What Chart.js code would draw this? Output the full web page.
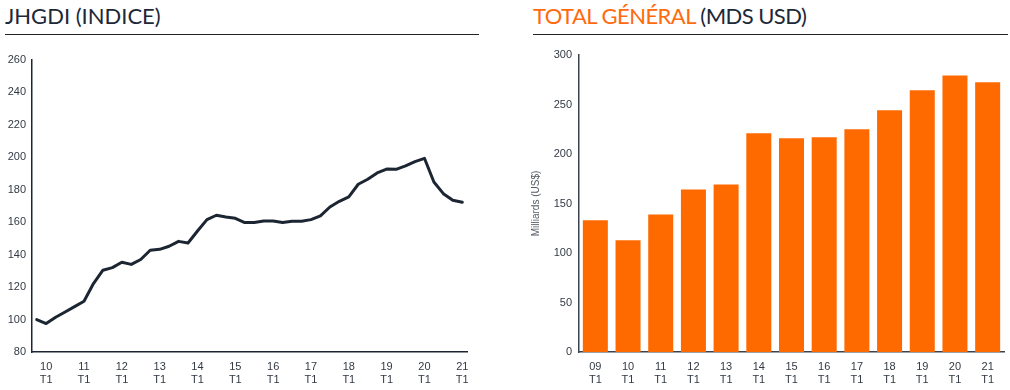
<!DOCTYPE html>
<html>
<head>
<meta charset="utf-8">
<script src="https://cdn.jsdelivr.net/npm/chart.js@4.4.1/dist/chart.umd.min.js"></script>
<style>
  html, body { margin: 0; padding: 0; background: #ffffff; }
  body { width: 1010px; height: 390px; position: relative; overflow: hidden; }
  .title { position: absolute; top: 2px; font-family: Lato, "Liberation Sans", sans-serif; font-size: 22px; color: #1d2838; white-space: nowrap; letter-spacing: 0px; }
  .title .hl { color: #ff6a0d; }
  .rule { position: absolute; top: 34px; height: 0; border-top: 1.5px solid #222; }
  .box { position: absolute; top: 40px; height: 350px; }
</style>
</head>
<body>
<div class="title" style="left:5px;">JHGDI (INDICE)</div>
<div class="rule" style="left:5px; width:474px;"></div>
<div class="title" style="left:533px; letter-spacing:-0.55px;"><span class="hl">TOTAL GÉNÉRAL</span> (MDS USD)</div>
<div class="rule" style="left:533px; width:475px;"></div>

<div class="box" style="left:0px; width:480px;"><canvas id="lineChart" width="480" height="350"></canvas></div>
<div class="box" style="left:520px; width:490px;"><canvas id="barChart" width="490" height="350"></canvas></div>

<script>
// ---- Data: JHGDI index, quarterly ----
const lineCategories = [
  '09 T4',
  '10 T1','10 T2','10 T3','10 T4',
  '11 T1','11 T2','11 T3','11 T4',
  '12 T1','12 T2','12 T3','12 T4',
  '13 T1','13 T2','13 T3','13 T4',
  '14 T1','14 T2','14 T3','14 T4',
  '15 T1','15 T2','15 T3','15 T4',
  '16 T1','16 T2','16 T3','16 T4',
  '17 T1','17 T2','17 T3','17 T4',
  '18 T1','18 T2','18 T3','18 T4',
  '19 T1','19 T2','19 T3','19 T4',
  '20 T1','20 T2','20 T3','20 T4',
  '21 T1'
];
const jhgdiValues = [
  100, 97.5, 101.4, 104.7, 108, 111.3, 122.2, 130.4, 132, 135.3,
  134, 137, 142.7, 143.3, 145.2, 148.2, 147.2, 154.6, 161.6, 164.3,
  163.2, 162.4, 159.8, 159.8, 160.8, 160.8, 159.8, 160.6, 160.6, 161.6,
  163.9, 169.4, 172.9, 175.6, 183.4, 186.5, 190.4, 192.8, 192.6, 194.7,
  197.4, 199.4, 184.8, 177.6, 173.5, 172.3
];
const lineYTicks = [80, 100, 120, 140, 160, 180, 200, 220, 240, 260];

// ---- Data: Total général (Mds USD) ----
const barCategories = ['09 T1','10 T1','11 T1','12 T1','13 T1','14 T1','15 T1','16 T1','17 T1','18 T1','19 T1','20 T1','21 T1'];
const totalValues = [133, 112.8, 138.9, 164.2, 169.2, 220.9, 215.9, 216.9, 225, 244.1, 264.3, 279.4, 272.4];
const barYTicks = [0, 50, 100, 150, 200, 250, 300];
const barYTitle = 'Milliards (US$)';

const tickFont = { family: '"Liberation Sans", Arial, sans-serif', size: 11, lineHeight: 1.12 };
const tickColor = '#333a44';

function splitLabel(lbl) {
  const parts = lbl.split(' ');
  return [parts[0], parts[1]];
}

new Chart(document.getElementById('lineChart'), {
  type: 'line',
  data: {
    labels: lineCategories,
    datasets: [{
      data: jhgdiValues,
      borderColor: '#1c2633',
      borderWidth: 3,
      pointRadius: 0,
      tension: 0,
      borderJoinStyle: 'round',
      borderCapStyle: 'round',
      fill: false
    }]
  },
  options: {
    responsive: false,
    animation: false,
    layout: { padding: { top: 20, right: 13, left: 0, bottom: 0 } },
    plugins: { legend: { display: false }, tooltip: { enabled: false } },
    scales: {
      x: {
        offset: true,
        grid: { display: false, drawTicks: false },
        border: { display: true, color: '#1c2633', width: 1.5 },
        ticks: {
          autoSkip: false, maxRotation: 0, minRotation: 0, padding: 9,
          color: tickColor, font: tickFont,
          callback: function(v) {
            const l = lineCategories[v];
            return l.endsWith('T1') ? splitLabel(l) : '';
          }
        },
        afterFit: s => { s.height = 38; }
      },
      y: {
        min: 80, max: 260,
        grid: { display: false, drawTicks: false },
        border: { display: true, color: '#1c2633', width: 1.5 },
        afterBuildTicks: s => { s.ticks = lineYTicks.map(v => ({ value: v })); },
        ticks: { padding: 6, color: tickColor, font: tickFont },
        afterFit: s => { s.width = 32; }
      }
    }
  }
});

new Chart(document.getElementById('barChart'), {
  type: 'bar',
  data: {
    labels: barCategories,
    datasets: [{
      data: totalValues,
      backgroundColor: '#ff6a00',
      borderWidth: 0,
      barPercentage: 0.765,
      categoryPercentage: 1.0
    }]
  },
  options: {
    responsive: false,
    animation: false,
    layout: { padding: { top: 15, right: 6, left: 0, bottom: 0 } },
    plugins: { legend: { display: false }, tooltip: { enabled: false } },
    scales: {
      x: {
        grid: { display: false, drawTicks: false },
        border: { display: true, color: '#3a4450', width: 1.5 },
        ticks: {
          autoSkip: false, maxRotation: 0, minRotation: 0, padding: 9,
          color: tickColor, font: tickFont,
          callback: function(v) { return splitLabel(barCategories[v]); }
        },
        afterFit: s => { s.height = 38; }
      },
      y: {
        min: 0, max: 300,
        grid: { display: false, drawTicks: false },
        border: { display: true, color: '#3a4450', width: 1.5 },
        afterBuildTicks: s => { s.ticks = barYTicks.map(v => ({ value: v })); },
        ticks: { padding: 7, color: tickColor, font: tickFont },
        title: {
          display: true, text: barYTitle, color: '#555b63',
          font: { family: '"Liberation Sans", Arial, sans-serif', size: 10 },
          padding: { top: 10, bottom: 0 }
        },
        afterFit: s => { s.width = 59; }
      }
    }
  }
});
</script>
</body>
</html>
